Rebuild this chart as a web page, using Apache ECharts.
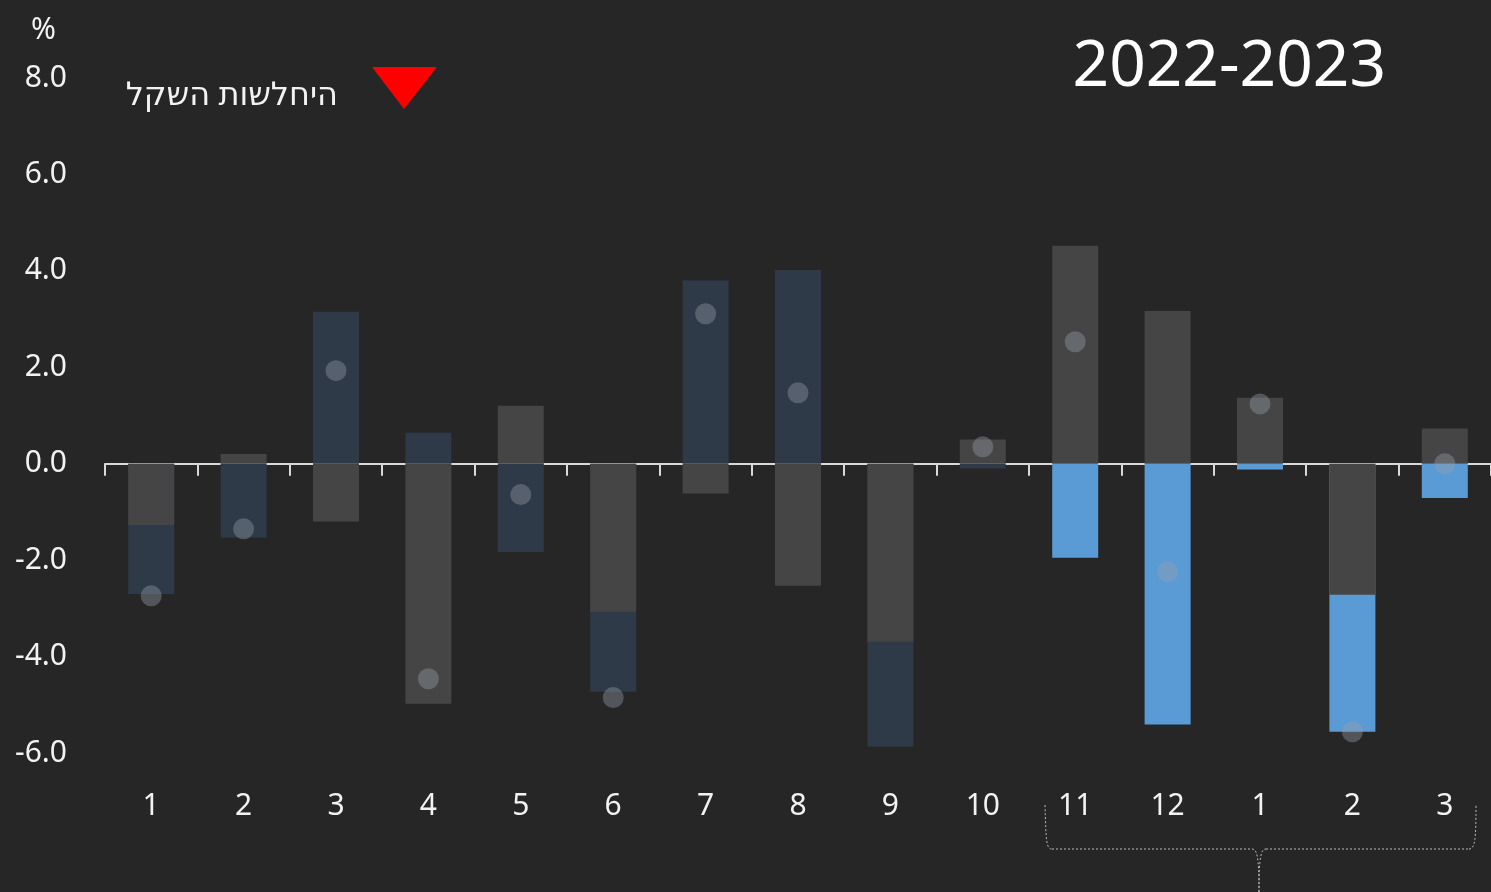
<!DOCTYPE html>
<html>
<head>
<meta charset="utf-8">
<script src="https://cdn.jsdelivr.net/npm/echarts@6/dist/echarts.min.js"></script>
<style>
  html, body { margin: 0; padding: 0; background: #262626; }
  #chart { width: 1491px; height: 892px; }
</style>
</head>
<body>
<div id="chart"></div>
<script>
// months 2022 (1..12) then 2023 (1..3)
var months = ['1', '2', '3', '4', '5', '6', '7', '8', '9', '10', '11', '12', '1', '2', '3'];
var blueVals = [-2.70, -1.53, 3.15, 0.64, -1.83, -4.73, 3.80, 4.02, -5.87, -0.10, -1.95, -5.41, -0.12, -5.56, -0.71];
var grayVals = [-1.27, 0.20, -1.20, -4.98, 1.20, -3.07, -0.62, -2.53, -3.69, 0.50, 4.52, 3.17, 1.37, -2.72, 0.73];
var dotVals = [-2.74, -1.35, 1.93, -4.46, -0.64, -4.85, 3.11, 1.47, null, 0.35, 2.53, -2.24, 1.24, -5.56, 0.00];
var yTicks = { min: -6, max: 8, step: 2 };

var chart = echarts.init(document.getElementById('chart'));
var font = "'Noto Sans', 'DejaVu Sans', sans-serif";

// last five months (2023 period) are highlighted in bright blue
var blueData = blueVals.map(function (v, i) {
  return {
    value: v,
    itemStyle: { color: i >= 10 ? '#5b9bd5' : '#2e3a47' }
  };
});

var braceStyle = { fill: null, stroke: '#bbbbbb', lineWidth: 1, lineDash: [2, 2] };

chart.setOption({
  backgroundColor: '#262626',
  animation: false,
  title: {
    text: '2022-2023',
    right: 100,
    top: 31,
    textStyle: { color: '#ffffff', fontSize: 64, fontWeight: 'normal', fontFamily: font }
  },
  grid: { left: 105, right: 0, top: 78, bottom: 139 },
  xAxis: [{
    type: 'category',
    data: months,
    axisLine: { onZero: true, lineStyle: { color: '#d9d9d9', width: 2 } },
    axisTick: { show: true, length: 12, lineStyle: { color: '#d9d9d9', width: 2 } },
    axisLabel: { show: false },
    splitLine: { show: false }
  }, {
    type: 'category',
    data: months,
    position: 'bottom',
    axisLine: { show: false, onZero: false },
    axisTick: { show: false },
    axisLabel: { color: '#f2f2f2', fontSize: 30, fontFamily: font, margin: 38 }
  }],
  yAxis: {
    type: 'value',
    min: yTicks.min,
    max: yTicks.max,
    interval: yTicks.step,
    axisLine: { show: false },
    axisTick: { show: false },
    splitLine: { show: false },
    axisLabel: {
      color: '#f2f2f2',
      fontSize: 30,
      fontFamily: font,
      margin: 38,
      formatter: function (v) { return v.toFixed(1); }
    }
  },
  series: [{
    type: 'bar',
    xAxisIndex: 0,
    data: blueData,
    barWidth: 46,
    barGap: '-100%',
    z: 2
  }, {
    type: 'bar',
    xAxisIndex: 0,
    data: grayVals,
    barWidth: 46,
    barGap: '-100%',
    itemStyle: { color: '#454545' },
    z: 3
  }, {
    type: 'scatter',
    xAxisIndex: 0,
    data: dotVals,
    symbolSize: 21,
    itemStyle: { color: 'rgba(150,158,170,0.5)' },
    z: 5
  }],
  graphic: [
    { type: 'text', x: 31, y: 15,
      style: { text: '%', fill: '#f2f2f2', font: '30px ' + font } },
    { type: 'polygon',
      shape: { points: [[372, 67], [437, 67], [404, 109]] },
      style: { fill: '#ff0000' } },
    { type: 'text', x: 338, y: 80,
      style: { text: 'היחלשות השקל', fill: '#f2f2f2', font: '32px ' + font, align: 'right' } },
    // dotted brace under the 2023 period
    { type: 'bezierCurve', shape: { x1: 1045, y1: 805, cpx1: 1046, cpy1: 840, cpx2: 1046, cpy2: 849, x2: 1052, y2: 849 }, style: braceStyle },
    { type: 'line', shape: { x1: 1052, y1: 849, x2: 1252, y2: 849 }, style: braceStyle },
    { type: 'bezierCurve', shape: { x1: 1252, y1: 849, cpx1: 1257, cpy1: 849, cpx2: 1259, cpy2: 856, x2: 1259, y2: 892 }, style: braceStyle },
    { type: 'bezierCurve', shape: { x1: 1259, y1: 892, cpx1: 1259, cpy1: 856, cpx2: 1261, cpy2: 849, x2: 1266, y2: 849 }, style: braceStyle },
    { type: 'line', shape: { x1: 1266, y1: 849, x2: 1469, y2: 849 }, style: braceStyle },
    { type: 'bezierCurve', shape: { x1: 1469, y1: 849, cpx1: 1475, cpy1: 849, cpx2: 1476, cpy2: 840, x2: 1476, y2: 805 }, style: braceStyle }
  ]
});
</script>
</body>
</html>
